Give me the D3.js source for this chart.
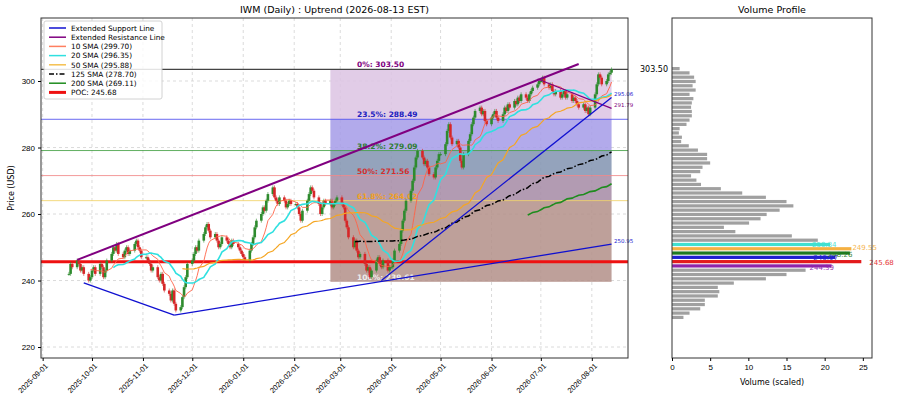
<!DOCTYPE html>
<html><head><meta charset="utf-8">
<script src="https://cdn.jsdelivr.net/npm/d3@7"></script>
<style>body{margin:0;background:#fff;font-family:"DejaVu Sans",sans-serif}</style>
</head><body><svg id="c" width="900" height="400"></svg>
<script>
const startDate = "2025-09-17";
const closes = [
242,245,244,246,245,243,244,242,240,241,
243,244,242,245,244,241,243,246,248,250,249,251,248,247,249,250,248,249,251,252,250,249,247,
247,246,245,243,244,241,240,242,239,237,236,234,237,233,231,232,235,238,241,245,
246,248,250,249,252,254,256,257,255,253,254,252,250,251,253,252,251,250,252,251,250,249,248,
247,246,249,251,253,256,258,260,262,261,264,266,268,265,264,263,265,264,262,263,264,263,
263,262,260,258,261,264,266,268,267,265,263,260,262,264,263,264,262,263,264,265,
263,262,258,256,253,250,252,249,247,248,245,243,244,241,243,246,247,245,244,246,243,244,
244,246,249,251,255,258,261,264,267,270,274,277,279,277,275,276,274,272,271,274,276,278,
278,281,285,287,283,281,282,280,276,274,278,282,284,287,289,291,292,290,291,288,287,
289,290,291,289,288,290,292,291,293,292,294,293,295,294,296,295,294,296,297,298,299,300,
300,301,299,298,299,297,296,297,295,296,297,295,296,294,295,294,293,292,293,291,292,290,292,
296,299,302,301,299,300,302,302.5,303.5];
const xTickLabels = ["2025-09-01","2025-10-01","2025-11-01","2025-12-01","2026-01-01","2026-02-01","2026-03-01","2026-04-01","2026-05-01","2026-06-01","2026-07-01","2026-08-01"];
const yTicks = [220,240,260,280,300];
const fibLevels = [303.50,288.49,279.09,271.56,264.02,239.61];
const fibNames = ["0%","23.5%","38.2%","50%","61.8%","100%"];
const fibStart = "2026-02-23";
const pocPrice = 245.68;
const volBinCenters = [];
for(let k=45;k>=-13;k--) volBinCenters.push(+(245.68+k*1.29).toFixed(2));
const volValues = [1.0,2.3,2.9,3.1,2.7,3.1,2.3,2.8,2.6,2.5,2.6,2.6,2.3,1.9,1.0,0.9,1.3,1.2,2.2,3.4,4.6,4.6,5.0,4.0,3.7,2.5,3.2,3.8,6.4,9.2,12.3,15.0,15.9,14.1,12.4,11.6,10.1,6.8,8.3,15.7,19.1,
20.7,23.5,23.3,21.4,24.8,20.9,
17.5,15.0,12.3,8.1,6.0,6.2,6.0,4.3,4.3,3.7,2.3,1.5];
const topBinColors = {"250.84":"#40e0d0","249.55":"#f5b041","248.26":"#1f7a1f","246.97":"#2020d0","245.68":"#e31a1c","244.39":"#8e24aa"};
const resistMain = [["2025-09-22",246.2],["2026-07-24",305.1]];
const resistShort = [["2026-06-29",300.6],["2026-08-13",291.79]];
const supportA = [["2025-09-26",239.3],["2025-11-20",229.6]];
const supportB = [["2025-11-20",229.6],["2026-08-13",250.95]];
const supportC = [["2026-03-26",240.0],["2026-08-13",295.06]];

const parse = d3.timeParse("%Y-%m-%d");
const dates=[]; {let d=parse(startDate); while(dates.length<closes.length){const w=d.getDay(); if(w>0&&w<6) dates.push(new Date(d)); d=d3.timeDay.offset(d,1);} }
const data = closes.map((c,i)=>({d:dates[i],c,o:i?closes[i-1]:c}));
function sma(n){return data.map((_,i)=>i<n-1?null:d3.mean(closes.slice(i-n+1,i+1)));}

const svg=d3.select("#c");
const L=41,R=628,T=18,B=358;
const x=d3.scaleTime().domain([parse("2025-08-31"),parse("2026-08-23")]).range([L,R]);
const y=d3.scaleLinear().domain([216.7,318.95]).range([B,T]);
const g=svg.append("g");
g.selectAll(".gx").data(xTickLabels).join("line").attr("x1",d=>x(parse(d))).attr("x2",d=>x(parse(d))).attr("y1",T).attr("y2",B).attr("stroke","#ccc").attr("stroke-dasharray","3,3").attr("stroke-width",0.7);
g.selectAll(".gy").data(yTicks).join("line").attr("x1",L).attr("x2",R).attr("y1",d=>y(d)).attr("y2",d=>y(d)).attr("stroke","#ccc").attr("stroke-dasharray","3,3").attr("stroke-width",0.7);
const bandCols=["#dcc3e3","#a49be8","#8193b0","#a58aa5","#b38f88"];
const fx0=x(parse(fibStart)), fx1=x(dates[dates.length-1]);
for(let i=0;i<5;i++) g.append("rect").attr("x",fx0).attr("width",fx1-fx0).attr("y",y(fibLevels[i])).attr("height",y(fibLevels[i+1])-y(fibLevels[i])).attr("fill",bandCols[i]).attr("opacity",0.85);
const lvlCols=["#444","#4444ee","#3a9a3a","#f08080","#f0d060","#999"];
fibLevels.slice(0,5).forEach((v,i)=>g.append("line").attr("x1",L).attr("x2",R).attr("y1",y(v)).attr("y2",y(v)).attr("stroke",lvlCols[i]).attr("stroke-width",i==0?1.2:0.8));
const txtCols=["#800080","#2020c0","#2e7d32","#d32f2f","#f0a020","#eee"];
fibLevels.forEach((v,i)=>g.append("text").attr("x",357).attr("y",y(v)-2).attr("font-size",7.5).attr("font-weight","bold").attr("fill",txtCols[i]).text(fibNames[i]+": "+v.toFixed(2)));
svg.append("text").attr("x",640).attr("y",y(303.5)+3).attr("font-size",8).text("303.50");
g.append("line").attr("x1",L).attr("x2",R).attr("y1",y(pocPrice)).attr("y2",y(pocPrice)).attr("stroke","#ee1111").attr("stroke-width",3);
const cw=2.6;
g.selectAll(".wk").data(data).join("line").attr("x1",d=>x(d.d)).attr("x2",d=>x(d.d)).attr("y1",d=>y(Math.max(d.o,d.c))-2).attr("y2",d=>y(Math.min(d.o,d.c))+2).attr("stroke",d=>d.c>=d.o?"#2e8b2e":"#d62728").attr("stroke-width",0.6);
g.selectAll(".cd").data(data).join("rect").attr("x",d=>x(d.d)-cw/2).attr("width",cw)
 .attr("y",d=>y(Math.max(d.o,d.c))).attr("height",d=>Math.max(1,Math.abs(y(d.o)-y(d.c))))
 .attr("fill",d=>d.c>=d.o?"#2e8b2e":"#d62728");
const line=d3.line().defined(d=>d[1]!=null).x(d=>x(d[0])).y(d=>y(d[1]));
const smas=[[10,"#ff6347",0.9,null],[20,"#30e0e0",1.6,null],[50,"#f5a623",1.2,null],[125,"#000",1.5,"6,2,1.5,2"],[200,"#1e8c1e",1.6,null]];
smas.forEach(([n,col,w,da])=>{const s=sma(n);g.append("path").attr("d",line(data.map((d,i)=>[d.d,s[i]]))).attr("fill","none").attr("stroke",col).attr("stroke-width",w).attr("stroke-dasharray",da);});
const tl=d3.line().x(d=>x(parse(d[0]))).y(d=>y(d[1]));
[[resistMain,"#800080",2],[resistShort,"#800080",1.3],[supportA,"#1010d0",1.3],[supportB,"#1010d0",1.3],[supportC,"#1010d0",1.3]].forEach(([p,c,w])=>g.append("path").attr("d",tl(p)).attr("stroke",c).attr("stroke-width",w).attr("fill","none"));
[["295.06",295.06,"#2020d0"],["291.79",291.79,"#800080"],["250.95",250.95,"#2020d0"]].forEach(([t,v,c])=>svg.append("text").attr("x",614).attr("y",y(v)-1).attr("font-size",5.5).attr("fill",c).text(t));
svg.append("rect").attr("x",L).attr("y",T).attr("width",R-L).attr("height",B-T).attr("fill","none").attr("stroke","#333");
const ya=svg.append("g").attr("transform",`translate(${L},0)`).call(d3.axisLeft(y).tickValues(yTicks).tickSize(3));
ya.select(".domain").remove(); ya.selectAll("text").attr("font-size",8);
const xa=svg.append("g").attr("transform",`translate(0,${B})`).call(d3.axisBottom(x).tickValues(xTickLabels.map(parse)).tickFormat(d3.timeFormat("%Y-%m-%d")).tickSize(3));
xa.select(".domain").remove();
xa.selectAll("text").attr("font-size",7.5).attr("text-anchor","end").attr("transform","rotate(-45)").attr("dx","-0.3em").attr("dy","0.5em");
svg.append("text").attr("transform",`translate(14,${(T+B)/2}) rotate(-90)`).attr("text-anchor","middle").attr("font-size",8).text("Price (USD)");
svg.append("text").attr("x",(L+R)/2).attr("y",13).attr("text-anchor","middle").attr("font-size",9.5).text("IWM (Daily) : Uptrend (2026-08-13 EST)");
const leg=[["Extended Support Line","#1010d0",null,1.5],["Extended Resistance Line","#800080",null,1.5],["10 SMA ("+sma(10).at(-1).toFixed(2)+")","#ff7f60",null,1.5],["20 SMA ("+sma(20).at(-1).toFixed(2)+")","#30e0e0",null,1.5],["50 SMA ("+sma(50).at(-1).toFixed(2)+")","#f5c050",null,1.5],["125 SMA ("+sma(125).at(-1).toFixed(2)+")","#000","5,2,1.5,2",1.5],["200 SMA ("+sma(200).at(-1).toFixed(2)+")","#1e8c1e",null,1.5],["POC: "+pocPrice.toFixed(2),"#ee1111",null,3]];
const lg=svg.append("g").attr("transform","translate(44,21)");
lg.append("rect").attr("width",118).attr("height",78).attr("fill","#fff").attr("opacity",0.85).attr("stroke","#ccc").attr("rx",2);
leg.forEach(([t,c,da,w],i)=>{const yy=7+i*9.2;lg.append("line").attr("x1",5).attr("x2",22).attr("y1",yy).attr("y2",yy).attr("stroke",c).attr("stroke-width",w).attr("stroke-dasharray",da);lg.append("text").attr("x",27).attr("y",yy+2.8).attr("font-size",7.3).text(t);});
const VL=672,VR=872;
const vx=d3.scaleLinear().domain([0,26.2]).range([VL,VR]);
const bh=(y(0)-y(1.29))*0.75;
svg.selectAll(".vb").data(volValues).join("rect").attr("x",VL).attr("y",(d,i)=>y(volBinCenters[i])-bh/2).attr("height",bh).attr("width",d=>vx(d)-VL)
 .attr("fill",(d,i)=>topBinColors[volBinCenters[i].toFixed(2)]||"#a0a0a0");
const lblOff={"250.84":[-18,0],"249.55":[1,-2],"248.26":[-22,1],"246.97":[-22,0],"245.68":[8,0],"244.39":[-22,1]};
volBinCenters.forEach((v,i)=>{const key=v.toFixed(2),c=topBinColors[key]; if(c){const o=lblOff[key]; svg.append("text").attr("x",vx(volValues[i])+o[0]).attr("y",y(v)+3+o[1]).attr("font-size",7).attr("fill",c).attr("opacity",0.9).text(key);}});
svg.append("rect").attr("x",VL).attr("y",T).attr("width",VR-VL).attr("height",B-T).attr("fill","none").attr("stroke","#333");
const va=svg.append("g").attr("transform",`translate(0,${B})`).call(d3.axisBottom(vx).tickValues([0,5,10,15,20,25]).tickSize(3));
va.select(".domain").remove(); va.selectAll("text").attr("font-size",8);
svg.append("text").attr("x",(VL+VR)/2).attr("y",385).attr("text-anchor","middle").attr("font-size",8).text("Volume (scaled)");
svg.append("text").attr("x",(VL+VR)/2).attr("y",13).attr("text-anchor","middle").attr("font-size",9.5).text("Volume Profile");
</script></body></html>
